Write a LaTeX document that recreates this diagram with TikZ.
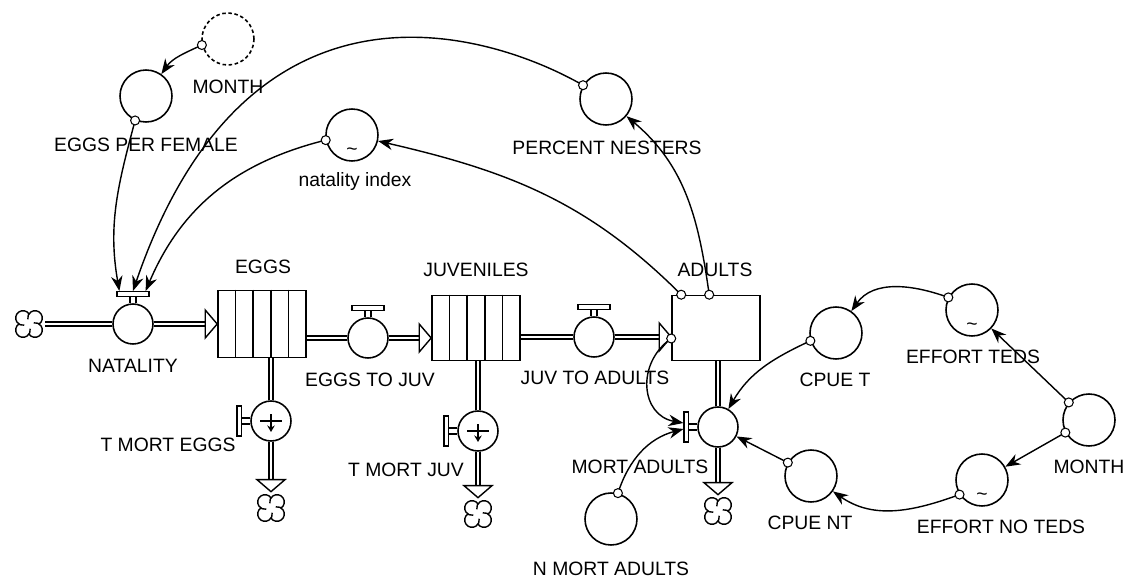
\documentclass[tikz,border=0pt]{standalone}
\usepackage{fontspec}
\setmainfont{Liberation Sans}
\usetikzlibrary{positioning,arrows.meta,calc}
\tikzset{
  aux/.style={circle,draw,fill=white,line width=0.9pt,inner sep=0pt,minimum size=10.4mm},
  valve/.style={circle,draw,fill=white,line width=0.9pt,inner sep=0pt,minimum size=8mm},
  stock/.style={draw,fill=white,line width=0.9pt,minimum width=17.6mm,minimum height=13mm},
  bar/.style={draw,fill=white,line width=0.7pt,inner sep=0pt},
  sink/.style={circle,inner sep=0pt,minimum size=6.4mm},
  pipe/.style={double,double distance=0.55mm,line width=0.3mm},
  conn/.style={line width=0.8pt,-{Stealth[length=3mm,width=2.3mm]}},
  tap/.style={circle,draw,fill=white,line width=0.6pt,inner sep=0pt,minimum size=1.8mm},
  lbl/.style={font=\fontsize{11}{13}\selectfont,inner sep=0pt},
  tilde/.style={font=\fontsize{11}{13}\selectfont,inner sep=0pt},
  cloud/.pic={
    \foreach \a [evaluate=\a as \s using \a-100] in {45,135,225,315}
      \draw[line width=0.8pt] (\a:1.7mm) ++(\s:1.46mm) arc[start angle=\s,delta angle=245,radius=1.46mm];
  },
  flowtip/.pic={\draw[line width=0.8pt,fill=white] (0,0) -- (-2.4mm,2.8mm) -- (-2.4mm,-2.8mm) -- cycle;}
}
% handle of a valve on a horizontal / vertical pipe
\newcommand{\handletop}[1]{%
  \node[bar,minimum width=6.4mm,minimum height=1mm,above=1.2mm of #1] (#1-h) {};
  \draw[line width=0.6pt] ([xshift=-0.6mm]#1-h.south) -- ++(0,-1.2mm)
    ([xshift=0.6mm]#1-h.south) -- ++(0,-1.2mm);}
\newcommand{\handleleft}[1]{%
  \node[bar,minimum width=0.9mm,minimum height=6mm,left=1.6mm of #1] (#1-h) {};
  \draw[line width=0.6pt] ([yshift=0.6mm]#1-h.east) -- ++(1.6mm,0)
    ([yshift=-0.6mm]#1-h.east) -- ++(1.6mm,0);}
% outflow mark inside a valve
\newcommand{\drain}[1]{%
  \draw[line width=0.7pt] ([xshift=-2.2mm]#1.center) -- ([xshift=2.2mm]#1.center);
  \draw[line width=0.7pt,-{Stealth[length=1.3mm,width=1.5mm]}] ([yshift=1.4mm]#1.center) -- ([yshift=-2.2mm]#1.center);}

\begin{document}
\begin{tikzpicture}[x=0.2mm,y=-0.2mm]
  \useasboundingbox (0,0) rectangle (1125,578);

  % stocks
  \node[stock,minimum height=13.4mm] (eggs) at (262,324) {};
  \node[stock] (juv) at (476,328) {};
  \node[stock] (adults) at (716,328) {};
  \foreach \s in {eggs,juv} \foreach \i in {1,...,4}
    \draw[line width=0.7pt] ($(\s.north west)!\i/5!(\s.north east)$) -- ($(\s.south west)!\i/5!(\s.south east)$);

  % flows
  \node[sink] (src) at (29,324) {};
  \node[valve] (nat) at (133,324) {};
  \node[valve] (e2j) at (368,338) {};
  \node[valve] (j2a) at (594,337) {};
  \node[valve] (tme) at (271,421) {};
  \node[valve] (tmj) at (478,431) {};
  \node[valve] (ma) at (718,427) {};
  \node[sink] (tme-c) at (271,508) {};
  \node[sink] (tmj-c) at (478,514) {};
  \node[sink] (ma-c) at (718,511) {};
  \handletop{nat} \handletop{e2j} \handletop{j2a}
  \handleleft{tme} \handleleft{tmj} \handleleft{ma}
  \drain{tme} \drain{tmj}
  \foreach \c in {src,tme-c,tmj-c,ma-c} \pic at (\c) {cloud};

  % converters
  \node[aux,dashed,dash pattern=on 2pt off 1.5pt] (month1) at (228,39) {};
  \node[aux] (epf) at (146,96) {};
  \node[aux] (natidx) at (352,135) {};
  \node[aux] (pn) at (606,99) {};
  \node[aux] (nma) at (611,519) {};
  \node[aux] (cpuet) at (836,333) {};
  \node[aux] (efft) at (972,310) {};
  \node[aux] (month2) at (1089,420) {};
  \node[aux] (cpuent) at (811,476) {};
  \node[aux] (effnt) at (982,480) {};
  \foreach \n in {natidx,efft,effnt} \node[tilde] at ([yshift=-3.3mm]\n.center) {\textasciitilde};

  % labels
  \node[lbl] (nat-l) at (133,366) {NATALITY};
  \node[lbl] (eggs-l) at (263,267) {EGGS};
  \node[lbl] (juv-l) at (476,270) {JUVENILES};
  \node[lbl] (adults-l) at (715,270) {ADULTS};
  \node[lbl] (e2j-l) at (370,380) {EGGS TO JUV};
  \node[lbl] (j2a-l) at (595,378) {JUV TO ADULTS};
  \node[lbl] (tme-l) at (168,445) {T MORT EGGS};
  \node[lbl] (tmj-l) at (406,470) {T MORT JUV};
  \node[lbl] (ma-l) at (640,467) {MORT ADULTS};
  \node[lbl] (nma-l) at (611,569) {N MORT ADULTS};
  \node[lbl] (month1-l) at (228,87) {MONTH};
  \node[lbl] (epf-l) at (146,145) {EGGS PER FEMALE};
  \node[lbl] (natidx-l) at (355,182) {natality index};
  \node[lbl] (pn-l) at (607,148) {PERCENT NESTERS};
  \node[lbl] (cpuet-l) at (835,380) {CPUE T};
  \node[lbl] (efft-l) at (973,357) {EFFORT TEDS};
  \node[lbl] (month2-l) at (1089,467) {MONTH};
  \node[lbl] (cpuent-l) at (810,523) {CPUE NT};
  \node[lbl] (effnt-l) at (1001,527) {EFFORT NO TEDS};

  % pipes
  \draw[pipe] (src) -- (nat);
  \draw[pipe,shorten >=2.4mm] (nat) -- (nat -| eggs.west);
  \pic at (nat -| eggs.west) {flowtip};
  \draw[pipe] (e2j -| eggs.east) -- (e2j);
  \draw[pipe,shorten >=2.4mm] (e2j) -- (e2j -| juv.west);
  \pic at (e2j -| juv.west) {flowtip};
  \draw[pipe] (j2a -| juv.east) -- (j2a);
  \draw[pipe,shorten >=2.4mm] (j2a) -- (j2a -| adults.west);
  \pic at (j2a -| adults.west) {flowtip};
  \foreach \v/\s in {tme/eggs,tmj/juv,ma/adults}{
    \draw[pipe] (\v |- \s.south) -- (\v);
    \draw[pipe,shorten >=2.4mm] (\v) -- (\v-c);
    \pic[rotate=-90] at (\v-c.north) {flowtip};
  }

  % connectors
  \draw[conn] (month1.193) node[tap]{} to[out=205,in=55] (epf);
  \draw[conn] (epf.246) node[tap]{} to[out=255,in=100] ([xshift=0.6mm]nat-h.north west);
  \draw[conn] (pn.149) node[tap]{} .. controls (490,32) and (248,-45) .. (nat-h.north);
  \draw[conn] (natidx.191) node[tap]{} to[out=194,in=67] ([xshift=-0.8mm]nat-h.north east);
  \draw[conn] ([xshift=2mm]adults.north west) node[tap]{} to[out=135,in=-13] (natidx);
  \draw[conn] ([xshift=7.6mm]adults.north west) node[tap]{} to[out=98,in=-40] (pn);
  \draw[conn] ([yshift=-2.1mm]adults.west) node[tap]{} to[out=215,in=170,looseness=1.3] ([yshift=0.8mm]ma-h.west);
  \draw[conn] (nma.75) node[tap]{} to[out=72,in=195] ([yshift=-0.4mm]ma-h.west);
  \draw[conn] (cpuet.197) node[tap]{} to[out=205,in=60] (ma);
  \draw[conn] (cpuent.150) node[tap]{} -- (ma);
  \draw[conn] (efft.152) node[tap]{} to[out=160,in=55] (cpuet);
  \draw[conn] (month2.139) node[tap]{} -- (efft);
  \draw[conn] (month2.208) node[tap]{} -- (effnt);
  \draw[conn] (effnt.213) node[tap]{} to[out=200,in=-35] (cpuent);
\end{tikzpicture}
\end{document}
